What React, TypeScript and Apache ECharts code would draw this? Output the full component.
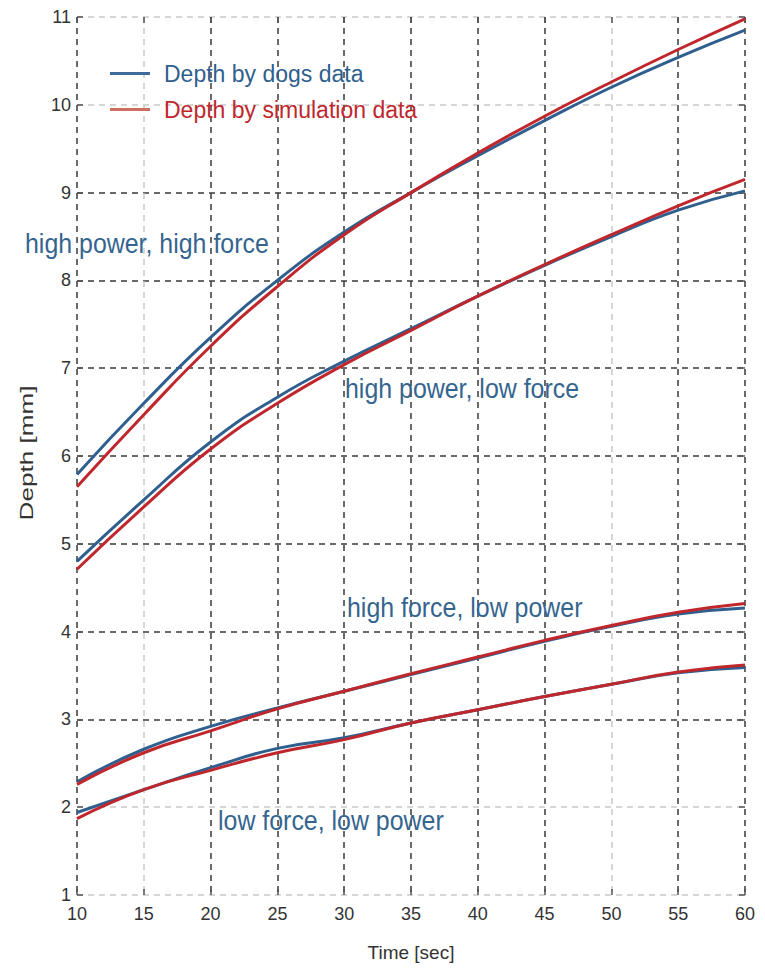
import React, { useEffect, useRef } from "react";
import * as echarts from "echarts";

const timeSec = [10, 15, 20, 25, 30, 35, 40, 45, 50, 55, 60];

const hphfDogs = [5.79, 6.6, 7.35, 8.0, 8.55, 9.0, 9.42, 9.82, 10.2, 10.54, 10.85];
const hphfSim = [5.65, 6.47, 7.25, 7.93, 8.52, 9.0, 9.45, 9.87, 10.26, 10.63, 10.98];
const hplfDogs = [4.8, 5.5, 6.16, 6.67, 7.08, 7.45, 7.82, 8.17, 8.5, 8.8, 9.02];
const hplfSim = [4.71, 5.42, 6.08, 6.6, 7.04, 7.43, 7.82, 8.18, 8.52, 8.85, 9.15];
const hflpDogs = [2.29, 2.66, 2.92, 3.13, 3.32, 3.51, 3.7, 3.89, 4.06, 4.2, 4.27];
const hflpSim = [2.26, 2.62, 2.87, 3.12, 3.32, 3.52, 3.71, 3.9, 4.07, 4.22, 4.32];
const lflpDogs = [1.94, 2.2, 2.45, 2.67, 2.79, 2.96, 3.11, 3.26, 3.4, 3.53, 3.59];
const lflpSim = [1.87, 2.2, 2.42, 2.62, 2.77, 2.96, 3.11, 3.26, 3.4, 3.54, 3.62];

const legendNames = ["Depth by dogs data", "Depth by simulation data"];
const annotations = [
  { text: "high power, high force", x: 25, y: 243 },
  { text: "high power, low force", x: 345, y: 388 },
  { text: "high force, low power", x: 347, y: 607 },
  { text: "low force, low power", x: 218, y: 820 },
];
const yAxisTitle = "Depth [mm]";
const xAxisTitle = "Time [sec]";

const BLUE = "#2f5f8e";
const RED = "#c0272d";
const TEXT_BLUE = "#35658f";
const DARK = "#3a3a3a";
const LIGHT = "#c9c9c9";
const FONT = "'Liberation Sans', Arial, sans-serif";

const xGridColors = [DARK, LIGHT, DARK, DARK, DARK, DARK, DARK, DARK, LIGHT, DARK, DARK];
const yGridColors = [LIGHT, LIGHT, DARK, DARK, DARK, DARK, DARK, DARK, DARK, LIGHT, LIGHT];

function pairs(ys: number[]) {
  return timeSec.map((t, i) => [t, ys[i]]);
}

export default function App() {
  const ref = useRef<HTMLDivElement>(null);
  useEffect(() => {
    document.body.style.margin = "0";
    const chart = echarts.init(ref.current!, null, { renderer: "svg" });
    const mk = (name: string, ys: number[], color: string) => ({
      name,
      type: "line",
      data: pairs(ys),
      smooth: true,
      showSymbol: false,
      symbol: "none",
      lineStyle: { color, width: 3 },
      itemStyle: { color },
      z: color === RED ? 3 : 2,
    });
    const tickStyle = { show: true, inside: true, length: 6, lineStyle: { color: "#555", width: 1.5 } };
    chart.setOption({
      animation: false,
      backgroundColor: "#ffffff",
      grid: { left: 77, right: 20, top: 17, bottom: 73 },
      legend: {
        left: 105,
        top: 57,
        orient: "vertical",
        itemWidth: 40,
        itemHeight: 3,
        itemGap: 13,
        icon: "rect",
        textStyle: { fontFamily: FONT, fontSize: 23, padding: [0, 0, 0, 9] },
        data: [
          { name: legendNames[0], textStyle: { color: BLUE }, itemStyle: { color: "#3f6b9b" } },
          { name: legendNames[1], textStyle: { color: RED }, itemStyle: { color: "#cd6f5f" } },
        ],
      },
      xAxis: [
        {
          type: "value",
          min: 10,
          max: 60,
          interval: 5,
          name: xAxisTitle,
          nameLocation: "middle",
          nameGap: 48,
          nameTextStyle: { fontFamily: FONT, fontSize: 19, color: "#333" },
          axisLine: { show: false },
          axisTick: tickStyle,
          axisLabel: { fontFamily: FONT, fontSize: 18, color: "#333", margin: 10 },
          splitLine: { show: true, lineStyle: { color: xGridColors, type: [6, 5], width: 1.5 } },
        },
        {
          type: "value",
          position: "top",
          min: 10,
          max: 60,
          interval: 5,
          axisLine: { show: false },
          axisTick: tickStyle,
          axisLabel: { show: false },
          splitLine: { show: false },
        },
      ],
      yAxis: [
        {
          type: "value",
          min: 1,
          max: 11,
          interval: 1,
          axisLine: { show: false },
          axisTick: tickStyle,
          axisLabel: { fontFamily: FONT, fontSize: 18, color: "#333", margin: 6 },
          splitLine: { show: true, lineStyle: { color: yGridColors, type: [6, 5], width: 1.5 } },
        },
        {
          type: "value",
          position: "right",
          min: 1,
          max: 11,
          interval: 1,
          axisLine: { show: false },
          axisTick: tickStyle,
          axisLabel: { show: false },
          splitLine: { show: false },
        },
      ],
      graphic: [
        ...annotations.map((a) => ({
          type: "text",
          x: a.x,
          y: a.y,
          scaleX: 0.89,
          z: 10,
          style: {
            text: a.text,
            fill: TEXT_BLUE,
            font: `28px ${FONT}`,
            textVerticalAlign: "middle",
          },
        })),
        {
          type: "text",
          x: 27,
          y: 453,
          rotation: Math.PI / 2,
          scaleX: 1.45,
          style: {
            text: yAxisTitle,
            fill: "#333",
            font: `18px ${FONT}`,
            textAlign: "center",
            textVerticalAlign: "middle",
          },
        },
      ],
      series: [
        mk(legendNames[0], hphfDogs, BLUE),
        mk(legendNames[1], hphfSim, RED),
        mk(legendNames[0], hplfDogs, BLUE),
        mk(legendNames[1], hplfSim, RED),
        mk(legendNames[0], hflpDogs, BLUE),
        mk(legendNames[1], hflpSim, RED),
        mk(legendNames[0], lflpDogs, BLUE),
        mk(legendNames[1], lflpSim, RED),
      ],
    });
    return () => chart.dispose();
  }, []);
  return <div ref={ref} style={{ width: 765, height: 968 }} />;
}
